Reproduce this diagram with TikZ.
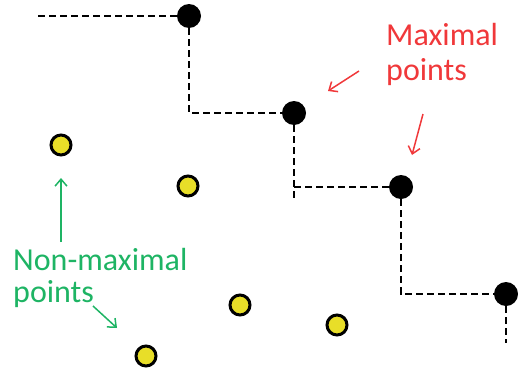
\documentclass[tikz,border=0pt]{standalone}
\usepackage{fontspec}
\setmainfont{Carlito}
\usetikzlibrary{arrows.meta}
\definecolor{maxred}{RGB}{240,56,58}
\definecolor{nongreen}{RGB}{30,180,100}
\definecolor{dotyellow}{RGB}{232,222,40}
\tikzset{
  maxpt/.style={circle,fill=black,minimum size=24pt,inner sep=0pt},
  nonpt/.style={circle,draw=black,line width=3pt,fill=dotyellow,minimum size=20pt,inner sep=0pt},
  stair/.style={dash pattern=on 7pt off 4pt,line width=1.8pt},
  lbl/.style={align=left,inner sep=0pt,anchor=north west},
  note/.style={line width=1.5pt,-{Straight Barb[length=7pt,width=12pt]}}
}

\begin{document}
\begin{tikzpicture}[x=1pt,y=-1pt]
  \useasboundingbox (0,0) rectangle (518,372);
  % maximal points and the staircase
  \node[maxpt] (m1) at (189,16) {};
  \node[maxpt] (m2) at (294,113) {};
  \node[maxpt] (m3) at (401,187) {};
  \node[maxpt] (m4) at (506,294) {};
  \coordinate (st) at (38,16);
  \coordinate (s2) at (294,198);
  \coordinate (s4) at (506,343);
  \draw[stair] (st) -- (m1);
  \draw[stair] (m1) |- (m2);
  \draw[stair] (m2) -- (s2);
  \draw[stair] (m3) -- (m3 -| m2);
  \draw[stair] (m3) |- (m4);
  \draw[stair] (m4) -- (s4);
  % non-maximal points
  \foreach \n/\x/\y in {a/61/145,b/188/186,c/240/305,d/337/325,e/146/356}
    \node[nonpt] (\n) at (\x,\y) {};
  % labels
  \node[lbl,text=maxred,font=\fontsize{32}{35}\selectfont] (maxlbl) at (386,23) {Maximal\\points};
  \node[lbl,text=nongreen,font=\fontsize{32}{32}\selectfont] (nonlbl) at (13,248) {Non-maximal\\points};
  \coordinate (r1) at (359,71);
  \coordinate (r1h) at (328,91);
  \coordinate (r2) at (423,114);
  \coordinate (r2h) at (412,155);
  \draw[note,maxred] (r1) -- (r1h);
  \draw[note,maxred] (r2) -- (r2h);
  \coordinate (g1) at (61,242);
  \coordinate (g1h) at (61,178);
  \coordinate (g2) at (93,306);
  \coordinate (g2h) at (117,328);
  \draw[note,nongreen] (g1) -- (g1h);
  \draw[note,nongreen] (g2) -- (g2h);
  % \draw (m1) -- (m4);
\end{tikzpicture}
\end{document}
